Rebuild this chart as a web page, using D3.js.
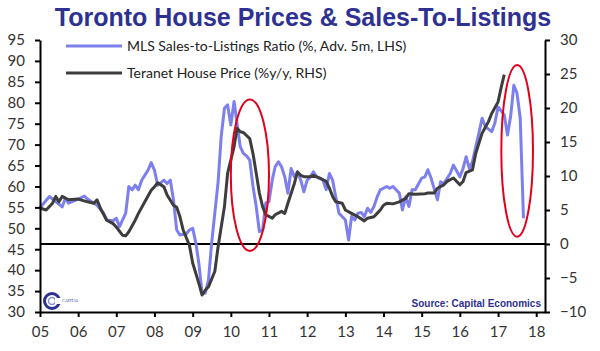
<!DOCTYPE html>
<html>
<head>
<meta charset="utf-8">
<script src="https://cdnjs.cloudflare.com/ajax/libs/d3/7.8.5/d3.min.js"></script>
<style>
  body { margin: 0; background: #fff; }
  .axis text { font-family: Lato, sans-serif; font-size: 15px; fill: #333; }
  .axis path, .axis line { stroke: #000; stroke-width: 2; }
  .legend text { font-family: Lato, sans-serif; font-size: 14px; fill: #222; }
</style>
</head>
<body>
<div id="main"></div>
<script>
// dataset
const mlsMonths = [
  '2005-01','2005-04','2005-06','2005-08','2005-09','2005-10','2006-01','2006-03','2006-04','2006-06',
  '2006-07','2006-09','2006-10','2006-12','2007-01','2007-02','2007-04','2007-05','2007-06','2007-07',
  '2007-08','2007-09','2007-11','2007-12','2008-01','2008-02','2008-04','2008-05','2008-06','2008-07',
  '2008-08','2008-09','2008-11','2008-12','2009-01','2009-02','2009-03','2009-04','2009-05','2009-06',
  '2009-07','2009-09','2009-10','2009-11','2009-12','2010-01','2010-02','2010-03','2010-04','2010-05',
  '2010-06','2010-07','2010-08','2010-09','2010-10','2010-11','2010-12','2011-01','2011-02','2011-03',
  '2011-04','2011-05','2011-06','2011-07','2011-08','2011-09','2011-10','2011-11','2011-12','2012-01',
  '2012-02','2012-03','2012-04','2012-06','2012-07','2012-08','2012-09','2012-10','2012-11','2012-12',
  '2013-01','2013-02','2013-03','2013-04','2013-05','2013-06','2013-07','2013-08','2013-09','2013-10',
  '2013-11','2013-12','2014-02','2014-03','2014-04','2014-06','2014-07','2014-08','2014-09','2014-10',
  '2014-11','2015-01','2015-02','2015-03','2015-04','2015-06','2015-07','2015-08','2015-10','2015-11',
  '2016-01','2016-02','2016-03','2016-04','2016-05','2016-06','2016-07','2016-08','2016-09','2016-11',
  '2016-12','2017-01','2017-03','2017-04','2017-05','2017-06','2017-07','2017-08','2017-09'
];
const mlsValues = [
  54.9, 57.6, 56.4, 55.1, 57.2, 56.0, 57.0, 57.7, 57.0, 56.0,
  55.5, 53.6, 52.0, 51.8, 52.4, 50.4, 53.6, 60.0, 59.2, 60.3,
  59.2, 61.5, 63.9, 65.7, 63.9, 60.3, 61.5, 60.7, 61.5, 56.8,
  49.6, 48.4, 48.7, 49.6, 50.0, 46.4, 41.6, 34.5, 34.5, 37.6,
  46.4, 61.0, 72.0, 78.7, 79.5, 74.7, 80.3, 75.1, 69.5, 67.9,
  67.3, 66.3, 60.0, 55.2, 49.2, 49.6, 56.0, 56.4, 61.5, 64.7,
  65.9, 64.7, 62.3, 58.4, 64.3, 62.3, 63.5, 61.5, 58.7, 61.5,
  62.3, 63.5, 62.3, 61.5, 59.2, 63.1, 61.5, 57.5, 53.6, 52.8,
  52.0, 47.2, 52.8, 52.0, 53.6, 53.8, 52.8, 54.8, 53.8, 55.2,
  57.5, 59.2, 60.0, 59.6, 60.0, 58.4, 54.4, 57.5, 55.2, 59.2,
  59.2, 62.0, 62.3, 64.0, 62.0, 56.8, 61.1, 60.7, 63.1, 65.1,
  62.3, 64.3, 67.1, 64.3, 65.9, 69.5, 72.7, 76.3, 74.3, 73.1,
  75.1, 79.0, 77.1, 72.3, 76.7, 84.2, 82.3, 76.3, 52.4
];

const teranetMonths = [
  '2005-01','2005-03','2005-05','2005-06','2005-07','2005-08','2005-10','2006-01','2006-04','2006-06',
  '2006-07','2006-08','2006-10','2006-12','2007-01','2007-03','2007-04','2007-05','2007-07','2007-08',
  '2007-10','2007-12','2008-01','2008-02','2008-04','2008-05','2008-07','2008-08','2008-09','2008-10',
  '2008-12','2009-01','2009-03','2009-04','2009-05','2009-06','2009-08','2009-09','2009-11','2009-12',
  '2010-02','2010-03','2010-04','2010-05','2010-07','2010-08','2010-09','2010-10','2010-11','2010-12',
  '2011-02','2011-03','2011-05','2011-06','2011-07','2011-09','2011-10','2011-11','2011-12','2012-02',
  '2012-03','2012-05','2012-07','2012-08','2012-09','2012-10','2012-12','2013-01','2013-03','2013-05',
  '2013-07','2013-08','2013-10','2013-11','2013-12','2014-01','2014-02','2014-04','2014-06','2014-08',
  '2014-09','2014-11','2015-02','2015-03','2015-05','2015-06','2015-08','2015-09','2015-11','2016-01',
  '2016-02','2016-03','2016-05','2016-06','2016-08','2016-10','2016-11','2017-01','2017-02','2017-03'
];
const teranetValues = [
  5.3, 5.0, 6.0, 7.0, 6.2, 7.0, 6.5, 6.6, 6.2, 6.0,
  6.5, 5.3, 3.5, 3.0, 2.5, 1.3, 1.2, 1.8, 3.5, 4.5,
  6.2, 7.9, 8.4, 9.0, 8.4, 7.2, 5.7, 5.4, 4.0, 2.1,
  -0.2, -2.8, -5.8, -7.5, -6.8, -6.3, -4.0, -0.4, 5.5, 10.4,
  14.3, 17.0, 16.5, 16.4, 15.5, 13.3, 10.4, 7.5, 5.5, 4.3,
  3.8, 4.3, 4.8, 4.5, 6.0, 8.9, 10.6, 10.1, 9.9, 9.9,
  10.1, 9.7, 9.2, 8.2, 7.0, 6.2, 6.0, 5.0, 4.5, 4.0,
  3.4, 3.8, 4.0, 4.5, 5.0, 5.7, 6.0, 5.9, 6.2, 6.7,
  7.4, 7.3, 7.4, 7.5, 7.5, 8.2, 8.7, 9.2, 9.7, 8.7,
  9.2, 10.5, 10.9, 13.3, 16.3, 18.0, 19.2, 20.9, 23.1, 24.9
];

const yearTicks = ['2005','2006','2007','2008','2009','2010','2011','2012','2013','2014','2015','2016','2017','2018'];
const leftTicks = [30, 35, 40, 45, 50, 55, 60, 65, 70, 75, 80, 85, 90, 95];
const rightTicks = [-10, -5, 0, 5, 10, 15, 20, 25, 30];

// circled areas: [from month, to month, top LHS value, bottom LHS value]
const highlights = [
  ['2010-01', '2011-01', 80.8, 44.6],
  ['2017-02', '2017-12', 89.0, 48.0]
];
// dataset

const parseMonth = d3.timeParse('%Y-%m');
const parseYear = d3.timeParse('%Y');

const mls = mlsMonths.map((m, i) => ({ date: parseMonth(m), value: mlsValues[i] }));
const teranet = teranetMonths.map((m, i) => ({ date: parseMonth(m), value: teranetValues[i] }));

const svg = d3.select('#main').append('svg')
  .attr('width', 600)
  .attr('height', 351)
  .style('display', 'block');

// plot area 40..545 x 40..312
const xScale = d3.scaleTime()
  .domain([new Date(2005, 0, 1), new Date(2018, 2, 26)])
  .range([40, 545]);
const yLeft = d3.scaleLinear().domain([30, 95]).range([312, 40]);
const yRight = d3.scaleLinear().domain([-10, 30]).range([312, 40]);

// title
svg.append('text')
  .attr('x', 303)
  .attr('y', 26)
  .attr('text-anchor', 'middle')
  .style('font-family', '"Liberation Sans", Arial, sans-serif')
  .style('font-weight', 'bold')
  .style('font-size', '25px')
  .style('fill', '#2e3192')
  .text('Toronto House Prices & Sales-To-Listings');

// zero line of the right axis
svg.append('line')
  .attr('x1', xScale.range()[0])
  .attr('x2', xScale.range()[1])
  .attr('y1', yRight(0))
  .attr('y2', yRight(0))
  .attr('stroke', '#000')
  .attr('stroke-width', 2);

// lines
const mlsLine = d3.line()
  .x(d => xScale(d.date))
  .y(d => yLeft(d.value));
const teranetLine = d3.line()
  .x(d => xScale(d.date))
  .y(d => yRight(d.value));

svg.append('path')
  .datum(mls)
  .attr('d', mlsLine)
  .attr('fill', 'none')
  .attr('stroke', '#7d80ec')
  .attr('stroke-width', 3)
  .attr('stroke-linejoin', 'round');

svg.append('path')
  .datum(teranet)
  .attr('d', teranetLine)
  .attr('fill', 'none')
  .attr('stroke', '#3d3d3d')
  .attr('stroke-width', 3)
  .attr('stroke-linejoin', 'round');

// red ellipses
svg.selectAll('.highlight')
  .data(highlights)
  .enter()
  .append('ellipse')
  .attr('class', 'highlight')
  .attr('cx', d => (xScale(parseMonth(d[0])) + xScale(parseMonth(d[1]))) / 2)
  .attr('cy', d => (yLeft(d[2]) + yLeft(d[3])) / 2)
  .attr('rx', d => (xScale(parseMonth(d[1])) - xScale(parseMonth(d[0]))) / 2)
  .attr('ry', d => (yLeft(d[3]) - yLeft(d[2])) / 2)
  .attr('fill', 'none')
  .attr('stroke', '#e3001b')
  .attr('stroke-width', 2);

// axes
svg.append('g')
  .attr('class', 'axis')
  .attr('transform', 'translate(40,0)')
  .call(d3.axisLeft(yLeft).tickValues(leftTicks).tickSize(5).tickSizeOuter(0).tickPadding(10));

svg.append('g')
  .attr('class', 'axis')
  .attr('transform', 'translate(545,0)')
  .call(d3.axisRight(yRight).tickValues(rightTicks).tickSize(5).tickSizeOuter(0).tickPadding(10));

svg.append('g')
  .attr('class', 'axis')
  .attr('transform', 'translate(0,312)')
  .call(d3.axisBottom(xScale)
    .tickValues(yearTicks.map(parseYear))
    .tickFormat(d3.timeFormat('%y'))
    .tickSize(5).tickSizeOuter(0).tickPadding(9));

// legend
const legend = svg.append('g').attr('class', 'legend');
const legendItems = [
  { label: 'MLS Sales-to-Listings Ratio (%, Adv. 5m, LHS)', color: '#7d80ec', y: 46 },
  { label: 'Teranet House Price (%y/y, RHS)', color: '#3d3d3d', y: 73 }
];
legendItems.forEach(item => {
  legend.append('line')
    .attr('x1', 66).attr('x2', 122)
    .attr('y1', item.y).attr('y2', item.y)
    .attr('stroke', item.color)
    .attr('stroke-width', 3);
  legend.append('text')
    .attr('x', 127)
    .attr('y', item.y + 5)
    .text(item.label);
});

// source
svg.append('text')
  .attr('x', 541)
  .attr('y', 307)
  .attr('text-anchor', 'end')
  .style('font-family', '"Liberation Sans", Arial, sans-serif')
  .style('font-weight', 'bold')
  .style('font-size', '10px')
  .style('fill', '#2e3192')
  .text('Source: Capital Economics');

// logo
const logo = svg.append('g').attr('transform', 'translate(52,301)');
logo.append('circle')
  .attr('r', 7.5)
  .attr('fill', 'none')
  .attr('stroke', '#2e3192')
  .attr('stroke-width', 3);
logo.append('circle')
  .attr('r', 3.5)
  .attr('fill', 'none')
  .attr('stroke', '#8d90d8')
  .attr('stroke-width', 1.5);
logo.append('rect')
  .attr('x', 3).attr('y', -3)
  .attr('width', 7).attr('height', 6)
  .attr('fill', '#fff');
logo.append('text')
  .attr('x', 10)
  .attr('y', 1)
  .style('font-family', '"Liberation Serif", serif')
  .style('font-size', '4px')
  .style('fill', '#2e3192')
  .text('CAPITAL');
</script>
</body>
</html>
